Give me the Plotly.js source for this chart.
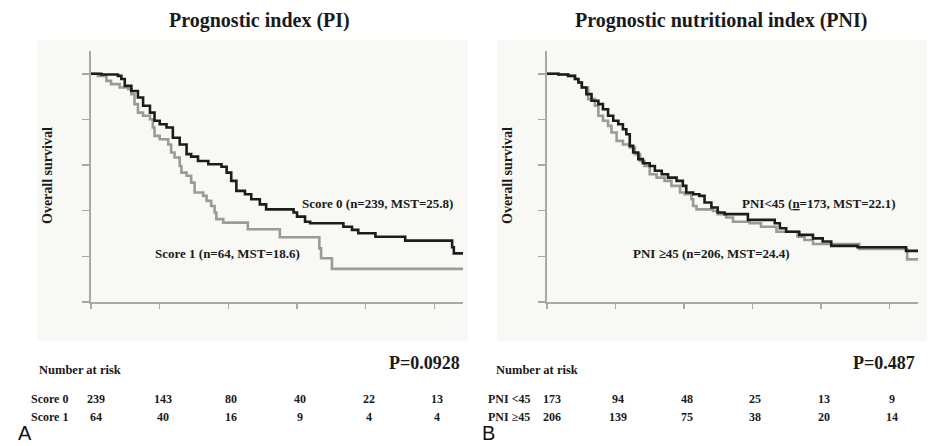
<!DOCTYPE html>
<html>
<head>
<meta charset="utf-8">
<script src="https://cdn.plot.ly/plotly-3.0.1.min.js"></script>
<style>html,body{margin:0;padding:0;background:#fff;}#chart{width:939px;height:446px;}</style>
</head>
<body>
<div id="chart"></div>
<script>
// ---------- data ----------
const panelTitles = ["Prognostic index (PI)", "Prognostic nutritional index (PNI)"];
const riskTimes = [0, 12, 24, 36, 48, 60];

// Panel A
const piScore0T = [0,1.8,4.7,5.3,5.9,7.05,8.2,9.1,10.3,11.1,12.0,13.2,14.3,15.5,16.7,17.5,18.7,20.5,22.8,23.7,24.5,25.4,26.9,28.0,29.5,30.6,35.4,36.0,37.4,38.3,44.1,45.6,46.7,49.7,54.9,63.1,63.4,65];
const piScore0S = [1.0,0.997,0.991,0.977,0.947,0.925,0.896,0.86,0.83,0.794,0.779,0.765,0.72,0.69,0.648,0.637,0.618,0.604,0.593,0.567,0.531,0.487,0.472,0.45,0.428,0.406,0.392,0.374,0.352,0.345,0.33,0.316,0.301,0.286,0.269,0.24,0.213,0.213];
const piScore1T = [0,1.2,2.7,3.5,5.0,6.5,7.05,7.6,8.2,9.1,10.3,10.8,11.1,12.0,13.5,14.0,14.6,15.5,15.8,16.7,17.5,18.1,19.6,20.2,21.0,21.6,21.9,23.1,27.4,33.0,39.9,40.2,42.1,65];
const piScore1S = [1.0,0.991,0.969,0.955,0.94,0.933,0.911,0.867,0.83,0.816,0.801,0.765,0.728,0.713,0.69,0.655,0.633,0.596,0.567,0.553,0.523,0.48,0.465,0.443,0.421,0.392,0.363,0.348,0.319,0.284,0.235,0.192,0.145,0.145];

// Panel B
const pniLowT = [0,2.0,3.7,4.9,5.5,6.1,6.9,7.8,9.0,9.8,10.7,11.6,12.5,13.3,13.9,14.5,15.1,16.0,16.8,18.0,18.9,20.1,21.2,22.7,23.8,24.4,25.6,26.7,27.6,28.8,29.9,31.1,35.2,39.9,40.8,41.9,44.2,46.6,48.3,49.8,54.4,62.9,65];
const pniLowS = [1.0,0.997,0.991,0.977,0.962,0.94,0.911,0.882,0.867,0.845,0.816,0.794,0.779,0.757,0.735,0.684,0.655,0.626,0.608,0.596,0.575,0.56,0.545,0.531,0.509,0.48,0.472,0.465,0.436,0.414,0.392,0.385,0.36,0.345,0.323,0.308,0.294,0.279,0.265,0.246,0.24,0.224,0.224];
const pniHighT = [0,2.0,3.7,4.9,5.5,6.1,7.2,8.4,9.0,9.8,10.7,11.3,12.2,13.3,14.5,15.4,16.3,17.1,18.0,19.2,20.6,21.8,23.3,24.1,25.3,25.6,26.2,29.1,29.9,31.4,32.6,35.5,37.5,40.2,43.9,45.1,46.6,54.7,63.1,65];
const pniHighS = [1.0,0.997,0.991,0.977,0.962,0.94,0.889,0.86,0.816,0.794,0.772,0.743,0.706,0.69,0.677,0.648,0.618,0.596,0.56,0.545,0.531,0.509,0.48,0.472,0.45,0.421,0.406,0.399,0.385,0.37,0.352,0.345,0.33,0.308,0.286,0.272,0.254,0.232,0.187,0.187];

const curveLabelsA = ["Score 0 (n=239, MST=25.8)", "Score 1 (n=64, MST=18.6)"];
const curveLabelsB = ["PNI&lt;45 (<u>n</u>=173, MST=22.1)", "PNI \u226545 (n=206, MST=24.4)"];
const groupLabelsA = ["Score 0", "Score 1"];
const groupLabelsB = ["PNI &lt;45", "PNI \u226545"];
const riskA0 = [239, 143, 80, 40, 22, 13];
const riskA1 = [64, 40, 16, 9, 4, 4];
const riskB0 = [173, 94, 48, 25, 13, 9];
const riskB1 = [206, 139, 75, 38, 20, 14];
const pValues = ["P=0.0928", "P=0.487"];
const panelLetters = ["A", "B"];

// ---------- helpers ----------
const W = 939, H = 446;
const px = v => v / W;
const py = v => 1 - v / H;
const SERIF = '"Liberation Serif", "Times New Roman", Times, serif';
const SANS = '"Liberation Sans", Arial, sans-serif';
const BLACK = '#1c1c1c', GRAY = '#9a9a9a', AXIS = '#a8a8a8';

function step(x, y, color, xa, ya) {
  return {x: x, y: y, type: 'scatter', mode: 'lines', line: {shape: 'hv', color: color, width: 2.6},
          xaxis: xa, yaxis: ya, hoverinfo: 'skip', showlegend: false};
}
const traces = [
  step(piScore1T, piScore1S, GRAY, 'x', 'y'),
  step(piScore0T, piScore0S, BLACK, 'x', 'y'),
  step(pniHighT, pniHighS, GRAY, 'x2', 'y2'),
  step(pniLowT, pniLowS, BLACK, 'x2', 'y2')
];

function xax(domain, anchor) {
  return {domain: domain, anchor: anchor, range: [0, 65], tickvals: riskTimes, ticks: 'outside', ticklen: 5,
          tickwidth: 1.5, tickcolor: AXIS, showticklabels: false, showline: true, linecolor: AXIS, linewidth: 2,
          showgrid: false, zeroline: false, fixedrange: true};
}
function yax(anchor) {
  return {domain: [py(302), py(51)], anchor: anchor, range: [0, 1.1], tickvals: [0, 0.2, 0.4, 0.6, 0.8, 1.0],
          ticks: 'outside', ticklen: 7, tickwidth: 1.5, tickcolor: AXIS, showticklabels: false, showline: true,
          linecolor: AXIS, linewidth: 2, showgrid: false, zeroline: false, fixedrange: true};
}

const ann = [];
function txt(text, x, y, size, opts) {
  ann.push(Object.assign({text: text, x: px(x), y: py(y), xref: 'paper', yref: 'paper', showarrow: false,
    xanchor: 'left', yanchor: 'middle', font: {family: SERIF, size: size, color: '#1a1a1a'}}, opts || {}));
}
// titles
txt('<b>' + panelTitles[0] + '</b>', 259, 20, 20, {xanchor: 'center'});
txt('<b>' + panelTitles[1] + '</b>', 721, 20, 20, {xanchor: 'center'});
// y titles
txt('<b>Overall survival</b>', 47, 176, 14, {xanchor: 'center', textangle: -90});
txt('<b>Overall survival</b>', 507, 176, 14, {xanchor: 'center', textangle: -90});
// curve labels
txt('<b>' + curveLabelsA[0] + '</b>', 300, 203, 13);
txt('<b>' + curveLabelsA[1] + '</b>', 153, 253, 13);
txt('<b>' + curveLabelsB[0] + '</b>', 740, 203, 13);
txt('<b>' + curveLabelsB[1] + '</b>', 631, 253, 13);
// number at risk
txt('<b>Number at risk</b>', 37, 370, 12.5);
txt('<b>Number at risk</b>', 494, 370, 12.5);
txt('<b>' + pValues[0] + '</b>', 462, 363, 18, {xanchor: 'right'});
txt('<b>' + pValues[1] + '</b>', 917, 363, 18, {xanchor: 'right'});
txt('<b>' + groupLabelsA[0] + '</b>', 29, 399, 12);
txt('<b>' + groupLabelsA[1] + '</b>', 29, 417, 12);
txt('<b>' + groupLabelsB[0] + '</b>', 486, 399, 12);
txt('<b>' + groupLabelsB[1] + '</b>', 486, 417, 12);
function riskRow(vals, xref, y) {
  vals.forEach((v, i) => {
    ann.push({text: '<b>' + v + '</b>', x: riskTimes[i], xref: xref, y: py(y), yref: 'paper', showarrow: false,
      xanchor: 'center', yanchor: 'middle', xshift: i === 0 ? 5 : 3, font: {family: SERIF, size: 12, color: '#1a1a1a'}});
  });
}
riskRow(riskA0, 'x', 399);
riskRow(riskA1, 'x', 417);
riskRow(riskB0, 'x2', 399);
riskRow(riskB1, 'x2', 417);
// panel letters
txt(panelLetters[0], 16, 433, 20, {font: {family: SANS, size: 20, color: '#111'}});
txt(panelLetters[1], 480, 433, 20, {font: {family: SANS, size: 20, color: '#111'}});

const shapes = [
  {type: 'rect', xref: 'paper', yref: 'paper', x0: px(37), x1: px(468), y0: py(341), y1: py(40),
   fillcolor: '#f8f8f4', line: {width: 0}, layer: 'below'},
  {type: 'rect', xref: 'paper', yref: 'paper', x0: px(497), x1: px(927), y0: py(341), y1: py(40),
   fillcolor: '#f8f8f4', line: {width: 0}, layer: 'below'}
];

const layout = {
  width: W, height: H, margin: {l: 0, r: 0, t: 0, b: 0},
  paper_bgcolor: '#ffffff', plot_bgcolor: '#ffffff', showlegend: false,
  xaxis: xax([px(91), px(463)], 'y'),
  yaxis: yax('x'),
  xaxis2: xax([px(547), px(918)], 'y2'),
  yaxis2: yax('x2'),
  annotations: ann, shapes: shapes
};
Plotly.newPlot('chart', traces, layout, {staticPlot: true, displayModeBar: false});
</script>
</body>
</html>
